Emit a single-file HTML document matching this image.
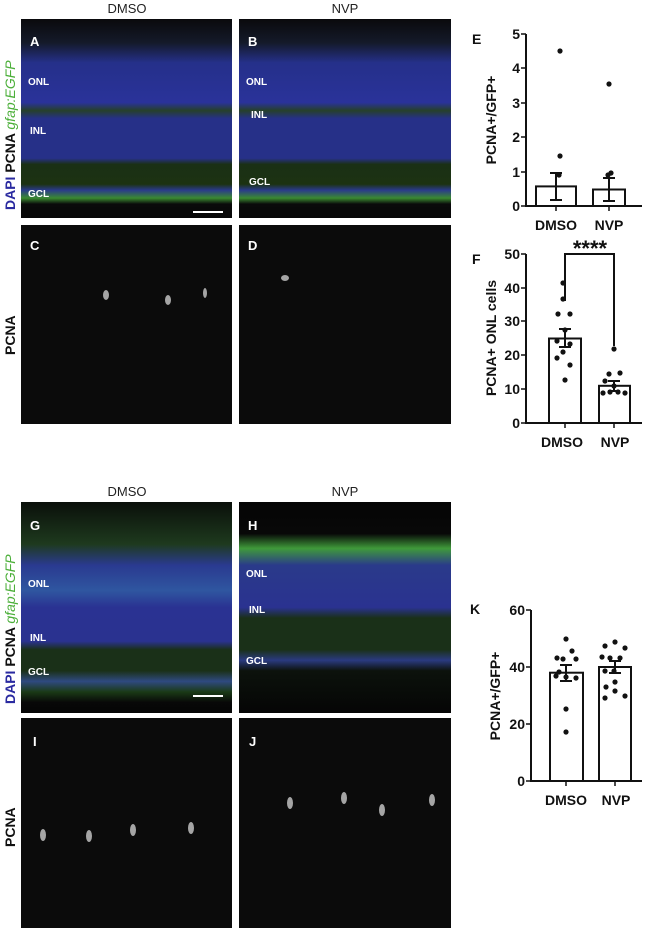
<!DOCTYPE html>
<html><head><meta charset="utf-8"><style>
body{margin:0;background:#fff;width:650px;height:930px;overflow:hidden;font-family:"Liberation Sans",sans-serif}
</style></head><body>
<svg width="650" height="930" viewBox="0 0 650 930" xmlns="http://www.w3.org/2000/svg" font-family="Liberation Sans, sans-serif">
<defs>
<linearGradient id="gA" x1="0" y1="0" x2="0" y2="1">
<stop offset="0" stop-color="#0a0a0c"/><stop offset="0.12" stop-color="#141a2a"/>
<stop offset="0.22" stop-color="#25308a"/><stop offset="0.42" stop-color="#2a329a"/>
<stop offset="0.46" stop-color="#26402a"/><stop offset="0.5" stop-color="#263088"/>
<stop offset="0.7" stop-color="#263088"/><stop offset="0.73" stop-color="#1a3015"/>
<stop offset="0.83" stop-color="#1c3212"/><stop offset="0.86" stop-color="#2a3a8a"/>
<stop offset="0.9" stop-color="#3a8a30"/><stop offset="0.93" stop-color="#0a0a0a"/><stop offset="1" stop-color="#070707"/>
</linearGradient>
<linearGradient id="gG" x1="0" y1="0" x2="0" y2="1">
<stop offset="0" stop-color="#0a0f0a"/><stop offset="0.2" stop-color="#1e3a1e"/>
<stop offset="0.3" stop-color="#2a3a90"/><stop offset="0.42" stop-color="#2f56a0"/>
<stop offset="0.5" stop-color="#2a3292"/><stop offset="0.66" stop-color="#2a3290"/>
<stop offset="0.7" stop-color="#1a3018"/><stop offset="0.8" stop-color="#1a3018"/>
<stop offset="0.85" stop-color="#2f4a80"/><stop offset="0.9" stop-color="#1a3a16"/>
<stop offset="0.95" stop-color="#080808"/><stop offset="1" stop-color="#050505"/>
</linearGradient>
<linearGradient id="gH" x1="0" y1="0" x2="0" y2="1">
<stop offset="0" stop-color="#050505"/><stop offset="0.15" stop-color="#080808"/>
<stop offset="0.22" stop-color="#3f9a3a"/><stop offset="0.3" stop-color="#2a3a8a"/>
<stop offset="0.5" stop-color="#2a3290"/><stop offset="0.55" stop-color="#1a3018"/>
<stop offset="0.7" stop-color="#1a3018"/><stop offset="0.75" stop-color="#2a3a80"/>
<stop offset="0.8" stop-color="#0c120c"/><stop offset="1" stop-color="#050505"/>
</linearGradient>
</defs>
<g font-size="13" fill="#222" text-anchor="middle">
<text x="127" y="13">DMSO</text><text x="345" y="13">NVP</text>
<text x="127" y="496">DMSO</text><text x="345" y="496">NVP</text>
</g>
<rect x="21" y="19" width="211" height="199" fill="url(#gA)"/>
<rect x="239" y="19" width="212" height="199" fill="url(#gA)"/>
<rect x="21" y="225" width="211" height="199" fill="#0b0b0b"/>
<rect x="239" y="225" width="212" height="199" fill="#0b0b0b"/>
<rect x="21" y="502" width="211" height="211" fill="url(#gG)"/>
<rect x="239" y="502" width="212" height="211" fill="url(#gH)"/>
<rect x="21" y="718" width="211" height="210" fill="#0b0b0b"/>
<rect x="239" y="718" width="212" height="210" fill="#0b0b0b"/>
<g fill="#ccc" opacity="0.8">
<ellipse cx="106" cy="295" rx="3" ry="5"/><ellipse cx="168" cy="300" rx="3" ry="5"/><ellipse cx="205" cy="293" rx="2" ry="5"/><ellipse cx="285" cy="278" rx="4" ry="3"/>
<ellipse cx="43" cy="835" rx="3" ry="6"/><ellipse cx="89" cy="836" rx="3" ry="6"/><ellipse cx="133" cy="830" rx="3" ry="6"/><ellipse cx="191" cy="828" rx="3" ry="6"/>
<ellipse cx="344" cy="798" rx="3" ry="6"/><ellipse cx="290" cy="803" rx="3" ry="6"/><ellipse cx="382" cy="810" rx="3" ry="6"/><ellipse cx="432" cy="800" rx="3" ry="6"/>
</g>
<g fill="#fff" font-weight="bold" font-size="13">
<text x="30" y="46">A</text><text x="248" y="46">B</text><text x="30" y="250">C</text><text x="248" y="250">D</text>
<text x="30" y="530">G</text><text x="248" y="530">H</text><text x="33" y="746">I</text><text x="249" y="746">J</text>
</g>
<g fill="#fff" font-weight="bold" font-size="10">
<text x="28" y="85">ONL</text><text x="30" y="134">INL</text><text x="28" y="197">GCL</text>
<text x="246" y="85">ONL</text><text x="251" y="118">INL</text><text x="249" y="185">GCL</text>
<text x="28" y="587">ONL</text><text x="30" y="641">INL</text><text x="28" y="675">GCL</text>
<text x="246" y="577">ONL</text><text x="249" y="613">INL</text><text x="246" y="664">GCL</text>
</g>
<rect x="193" y="211" width="30" height="2" fill="#fff"/>
<rect x="193" y="695" width="30" height="2" fill="#fff"/>
<g font-size="14" font-weight="bold">
<text transform="translate(15,210) rotate(-90)"><tspan fill="#2a2aa0">DAPI </tspan><tspan fill="#111">PCNA </tspan><tspan fill="#4caf3a" font-style="italic" font-weight="normal">gfap:EGFP</tspan></text>
<text transform="translate(15,704) rotate(-90)"><tspan fill="#2a2aa0">DAPI </tspan><tspan fill="#111">PCNA </tspan><tspan fill="#4caf3a" font-style="italic" font-weight="normal">gfap:EGFP</tspan></text>
<text transform="translate(15,355) rotate(-90)" fill="#111">PCNA</text>
<text transform="translate(15,847) rotate(-90)" fill="#111">PCNA</text>
</g>
<g stroke="#111" stroke-width="2" fill="none">
<path d="M526 34V206H642"/>
<rect x="536" y="186.4" width="40" height="19.6" fill="#fff"/>
<rect x="593" y="189.5" width="32" height="16.5" fill="#fff"/>
<path d="M556 173V200M550 173H562M550 200H562M609 178V201M603 178H615M603 201H615"/>
<path d="M526 254V423H642"/>
<rect x="549" y="338.5" width="32" height="84.5" fill="#fff"/>
<rect x="599" y="385.8" width="31" height="37.2" fill="#fff"/>
<path d="M565 329V347M559 329H571M559 347H571M614 381V391M608 381H620M608 391H620"/>
<path d="M565 301V254H614V346"/>
<path d="M531 610V781H642"/>
<rect x="550" y="672.7" width="33" height="108.3" fill="#fff"/>
<rect x="599" y="667" width="32" height="114" fill="#fff"/>
<path d="M566 665V681M560 665H572M560 681H572M615 661V673M609 661H621M609 673H621"/>
</g>
<g stroke="#111" stroke-width="1.5">
<path d="M521 34H526M521 68H526M521 103H526M521 137H526M521 172H526M521 206H526M556 206V211M609 206V211"/>
<path d="M521 254H526M521 288H526M521 321H526M521 355H526M521 389H526M521 423H526M565 423V428M614 423V428"/>
<path d="M526 610H531M526 667H531M526 724H531M526 781H531M566 781V786M615 781V786"/>
</g>
<g fill="#111">
<circle cx="560" cy="51" r="2.6"/><circle cx="560" cy="156" r="2.6"/><circle cx="559" cy="175" r="2.6"/>
<circle cx="609" cy="84" r="2.6"/><circle cx="611" cy="173" r="2.6"/><circle cx="608" cy="175" r="2.6"/>
<circle cx="563" cy="283" r="2.6"/><circle cx="563" cy="299" r="2.6"/><circle cx="558" cy="314" r="2.6"/><circle cx="570" cy="314" r="2.6"/><circle cx="565" cy="330" r="2.6"/><circle cx="557" cy="341" r="2.6"/><circle cx="570" cy="344" r="2.6"/><circle cx="563" cy="352" r="2.6"/><circle cx="557" cy="358" r="2.6"/><circle cx="570" cy="365" r="2.6"/><circle cx="565" cy="380" r="2.6"/>
<circle cx="614" cy="349" r="2.6"/><circle cx="609" cy="374" r="2.6"/><circle cx="620" cy="373" r="2.6"/><circle cx="605" cy="381" r="2.6"/><circle cx="614" cy="386" r="2.6"/><circle cx="603" cy="393" r="2.6"/><circle cx="610" cy="392" r="2.6"/><circle cx="618" cy="392" r="2.6"/><circle cx="625" cy="393" r="2.6"/>
<circle cx="566" cy="639" r="2.6"/><circle cx="557" cy="658" r="2.6"/><circle cx="572" cy="651" r="2.6"/><circle cx="563" cy="659" r="2.6"/><circle cx="576" cy="659" r="2.6"/><circle cx="556" cy="676" r="2.6"/><circle cx="566" cy="677" r="2.6"/><circle cx="576" cy="678" r="2.6"/><circle cx="566" cy="709" r="2.6"/><circle cx="566" cy="732" r="2.6"/><circle cx="559" cy="672" r="2.6"/>
<circle cx="615" cy="642" r="2.6"/><circle cx="605" cy="646" r="2.6"/><circle cx="625" cy="648" r="2.6"/><circle cx="602" cy="657" r="2.6"/><circle cx="610" cy="658" r="2.6"/><circle cx="620" cy="658" r="2.6"/><circle cx="605" cy="671" r="2.6"/><circle cx="614" cy="671" r="2.6"/><circle cx="606" cy="687" r="2.6"/><circle cx="615" cy="691" r="2.6"/><circle cx="625" cy="696" r="2.6"/><circle cx="605" cy="698" r="2.6"/><circle cx="615" cy="682" r="2.6"/>
</g>
<g font-size="14" font-weight="bold" fill="#111">
<text x="472" y="44">E</text><text x="472" y="264">F</text><text x="470" y="614">K</text>
<g text-anchor="end">
<text x="520" y="39">5</text><text x="520" y="73">4</text><text x="520" y="108">3</text><text x="520" y="142">2</text><text x="520" y="177">1</text><text x="520" y="211">0</text>
<text x="520" y="259">50</text><text x="520" y="293">40</text><text x="520" y="326">30</text><text x="520" y="360">20</text><text x="520" y="394">10</text><text x="520" y="428">0</text>
<text x="525" y="615">60</text><text x="525" y="672">40</text><text x="525" y="729">20</text><text x="525" y="786">0</text>
</g>
<g text-anchor="middle">
<text x="556" y="230">DMSO</text><text x="609" y="230">NVP</text>
<text x="562" y="447">DMSO</text><text x="615" y="447">NVP</text>
<text x="566" y="805">DMSO</text><text x="616" y="805">NVP</text>
<text x="590" y="256" font-size="22">****</text>
<text transform="translate(496,120) rotate(-90)">PCNA+/GFP+</text>
<text transform="translate(496,338) rotate(-90)">PCNA+ ONL cells</text>
<text transform="translate(500,696) rotate(-90)">PCNA+/GFP+</text>
</g>
</g>
</svg>
</body></html>
